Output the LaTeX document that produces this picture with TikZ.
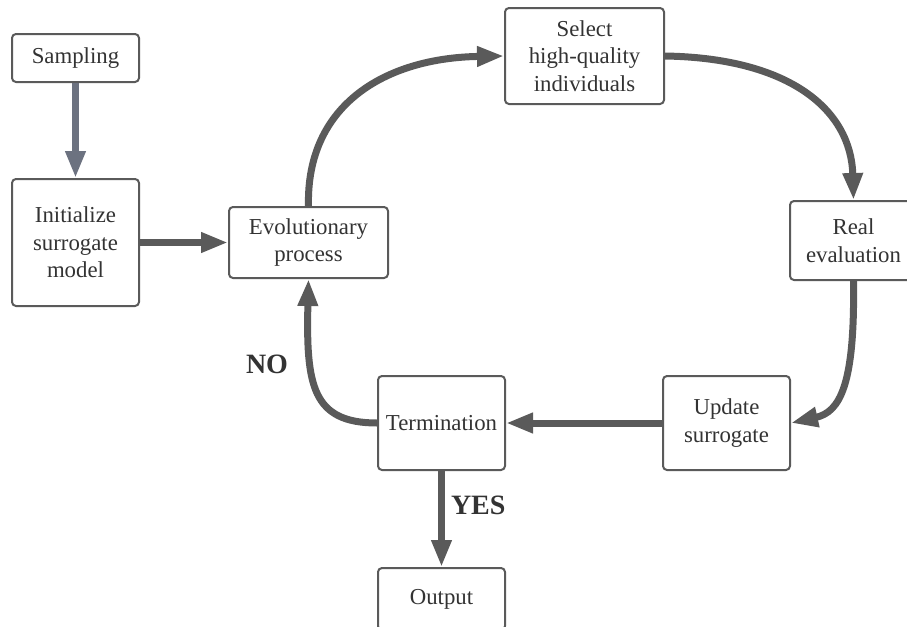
\documentclass[tikz,border=0pt]{standalone}
\usepackage{fontspec}
\setmainfont{Liberation Serif}
\usetikzlibrary{arrows.meta,positioning}
\definecolor{edgegray}{RGB}{90,90,90}
\definecolor{slategray}{RGB}{108,114,128}
\definecolor{txtgray}{RGB}{51,51,51}
\tikzstyle{stage}=[draw=edgegray, line width=1pt, fill=white, rounded corners=2pt, align=center, text=txtgray, minimum width=63.5pt, inner sep=0pt]
\tikzstyle{flow}=[draw=edgegray, line width=3.5pt, -{Triangle[length=13.5pt,width=9.5pt]}]
\tikzstyle{answer}=[text=txtgray, font=\fontsize{14}{16}\selectfont\bfseries, inner sep=0pt]

\begin{document}
\begin{tikzpicture}[x=0.5pt,y=-0.5pt,font=\fontsize{11.4}{13.75}\selectfont]
        \clip (0,0) rectangle (907,627);
        \node [stage, minimum height=24pt] (samp) at (75.5,58) {Sampling};
        \node [stage, minimum height=63.5pt] (init) [below=47.5pt of samp] {Initialize\\surrogate\\model};
        \node [stage, minimum width=79.5pt, minimum height=35.5pt] (evo) [right=44pt of init] {Evolutionary\\process};
        \node [stage, minimum width=79.5pt, minimum height=48pt] (sel) at (584.5,56) {Select\\high-quality\\individuals};
        \node [stage, minimum height=39.5pt] (real) at (853.5,240.5) {Real\\evaluation};
        \node [stage, minimum height=47pt] (upd) at (726.5,423) {Update\\surrogate};
        \node [stage, minimum height=47pt] (term) at (441.5,423) {Termination};
        \node [stage, minimum height=31pt] (out) [below=48pt of term] {Output};
        \node [answer] (no) at (267,364) {NO};
        % loop
        \draw [flow, draw=slategray] (samp) -- (init);
        \draw [flow] (init) -- (evo);
        \draw [flow] (evo.north) .. controls (306,105) and (385,58) .. (sel.west);
        \draw [flow] (sel.east) .. controls (790,58) and (851,110) .. (real.north);
        \draw [flow] (real.south) .. controls (855,385) and (840,412) .. (upd.east);
        \draw [flow] (upd) -- (term);
        \draw [flow] (term.west) .. controls (312,423) and (306,385) .. (evo.south);
        \draw [flow] (term) -- node [answer, right=3pt, pos=0.36] {YES} (out);
    \end{tikzpicture}
\end{document}
